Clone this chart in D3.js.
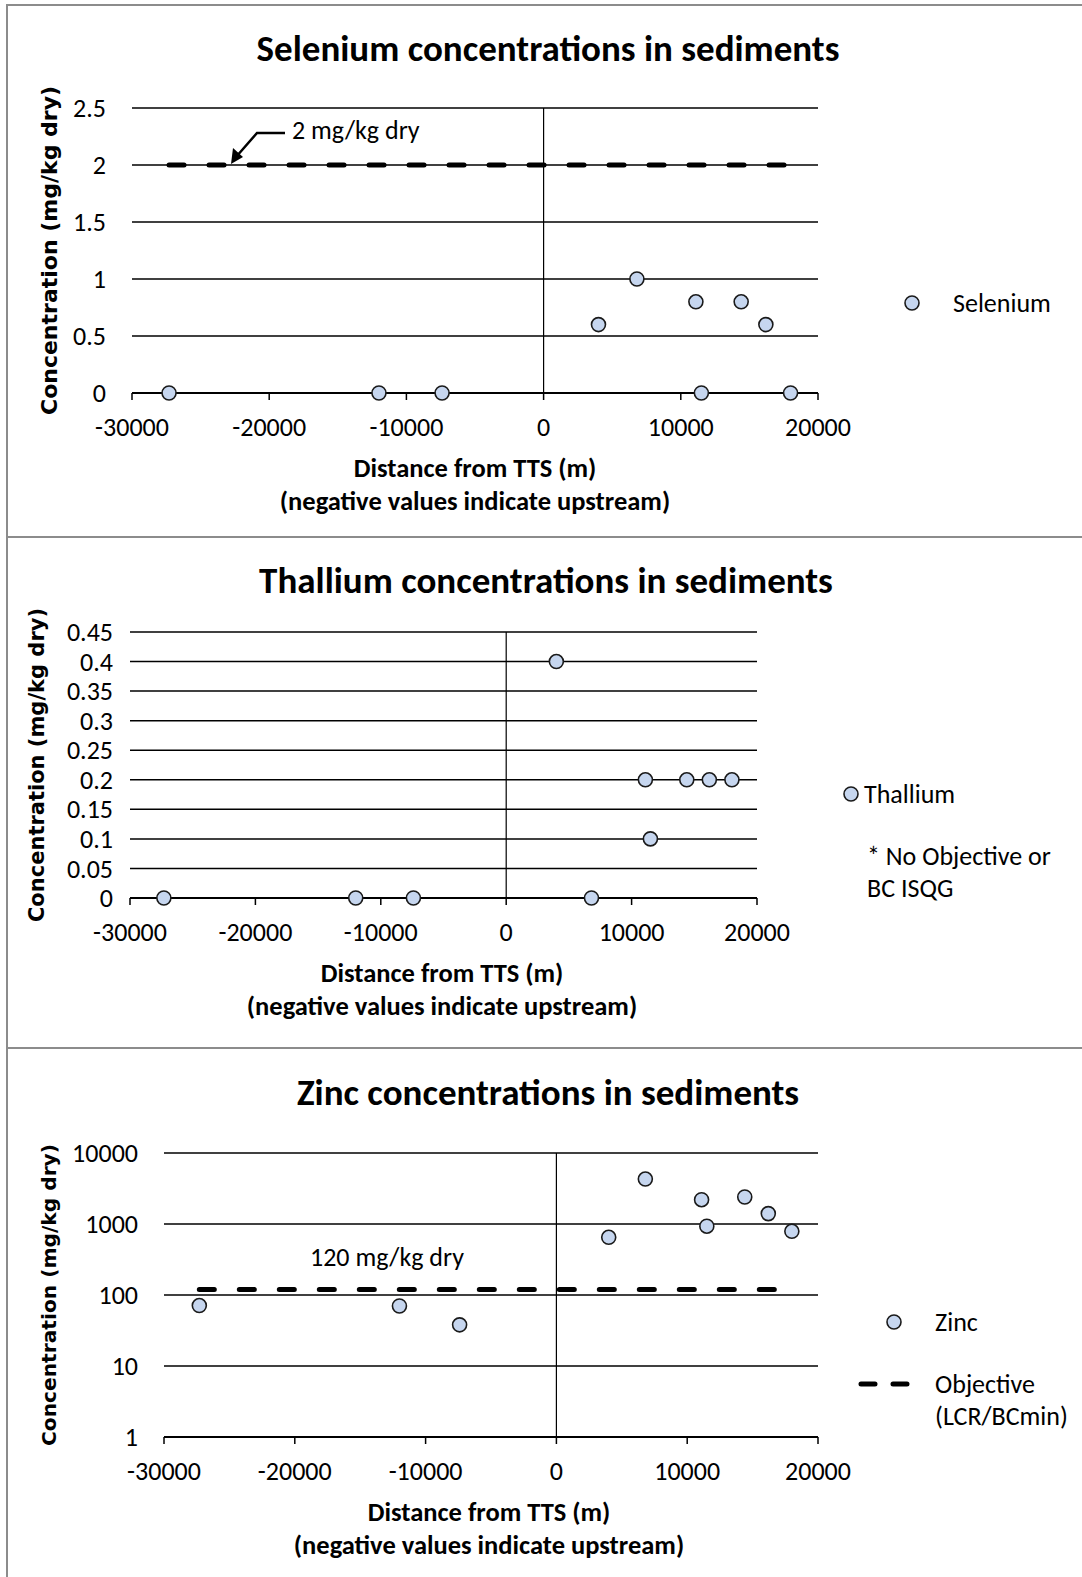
<!DOCTYPE html>
<html>
<head>
<meta charset="utf-8">
<script src="https://cdn.jsdelivr.net/npm/d3@7"></script>
<style>
  body { margin: 0; background: #fff; }
  svg text { font-family: Carlito, Calibri, Lato, sans-serif; fill: #000; }
  .ylab { font-family: "DejaVu Sans", Verdana, sans-serif !important; font-weight: bold; }
</style>
</head>
<body>
<div id="chart"></div>
<script>
const width = 1082;
const height = 1577;

// station distances from TTS (m), shared by all three metals
const distance = [-27300, -12000, -7400, 4000, 6800, 11100, 11500, 14400, 16200, 18000];

const selenium = [0, 0, 0, 0.6, 1, 0.8, 0, 0.8, 0.6, 0];
const thallium = [0, 0, 0, 0.4, 0, 0.2, 0.1, 0.2, 0.2, 0.2];
const zinc = [71, 70, 38, 650, 4300, 2200, 930, 2400, 1400, 790];

const seleniumObjective = 2;
const zincObjective = 120;

const xTicks = [-30000, -20000, -10000, 0, 10000, 20000];
const seTicks = [0, 0.5, 1, 1.5, 2, 2.5];
const tlTicks = [0, 0.05, 0.1, 0.15, 0.2, 0.25, 0.3, 0.35, 0.4, 0.45];
const znTicks = [1, 10, 100, 1000, 10000];

const fs = 26; // body text size

const svg = d3.select("#chart")
  .append("svg")
  .attr("width", width)
  .attr("height", height);

// panel frames
const frames = [[5, 537], [537, 1048], [1048, 1600]];
frames.forEach(f => {
  svg.append("rect")
    .attr("x", 7).attr("y", f[0])
    .attr("width", 1090).attr("height", f[1] - f[0])
    .attr("fill", "none")
    .attr("stroke", "#8c8c8c")
    .attr("stroke-width", 2);
});

function panel(cfg) {
  const g = svg.append("g");
  const x = d3.scaleLinear().domain([-30000, 20000]).range([cfg.left, cfg.right]);
  const y = cfg.y.range([cfg.bottom, cfg.top]);

  g.append("text")
    .attr("x", cfg.titleX).attr("y", cfg.titleY)
    .attr("text-anchor", "middle")
    .attr("font-size", 37).attr("font-weight", "bold")
    .text(cfg.title);

  // gridlines
  g.selectAll(".grid")
    .data(cfg.yTicks)
    .join("line")
    .attr("x1", cfg.left).attr("x2", cfg.right)
    .attr("y1", d => y(d)).attr("y2", d => y(d))
    .attr("stroke", "#000")
    .attr("stroke-width", d => d === cfg.yTicks[0] ? 2 : 1.5);

  // vertical axis at x = 0
  g.append("line")
    .attr("x1", x(0)).attr("x2", x(0))
    .attr("y1", cfg.top).attr("y2", cfg.bottom)
    .attr("stroke", "#000").attr("stroke-width", 1.2);

  // x tick marks
  g.selectAll(".xt")
    .data(xTicks)
    .join("line")
    .attr("x1", d => x(d)).attr("x2", d => x(d))
    .attr("y1", cfg.bottom).attr("y2", cfg.bottom + 7)
    .attr("stroke", "#000").attr("stroke-width", 1.5);

  g.selectAll(".xl")
    .data(xTicks)
    .join("text")
    .attr("x", d => x(d)).attr("y", cfg.bottom + 34)
    .attr("dy", "0.35em")
    .attr("text-anchor", "middle")
    .attr("font-size", fs)
    .text(d => d);

  g.selectAll(".yl")
    .data(cfg.yTicks)
    .join("text")
    .attr("x", cfg.left - cfg.labelGap).attr("y", d => y(d))
    .attr("dy", "0.35em")
    .attr("text-anchor", "end")
    .attr("font-size", fs)
    .text(d => d);

  g.append("text")
    .attr("class", "ylab")
    .attr("transform", `translate(${cfg.yLabX},${(cfg.top + cfg.bottom) / 2}) rotate(-90)`)
    .attr("text-anchor", "middle")
    .attr("dy", "0.35em")
    .attr("font-size", cfg.yLabSize)
    .text("Concentration (mg/kg dry)");

  g.append("text")
    .attr("x", cfg.xLabX).attr("y", cfg.bottom + 75)
    .attr("dy", "0.35em")
    .attr("text-anchor", "middle")
    .attr("font-size", fs + 0.5).attr("font-weight", "bold")
    .text("Distance from TTS (m)");
  g.append("text")
    .attr("x", cfg.xLabX).attr("y", cfg.bottom + 108)
    .attr("dy", "0.35em")
    .attr("text-anchor", "middle")
    .attr("font-size", fs + 0.5).attr("font-weight", "bold")
    .text("(negative values indicate upstream)");

  if (cfg.objective !== undefined) {
    g.append("line")
      .attr("x1", x(d3.min(distance))).attr("x2", x(d3.max(distance)))
      .attr("y1", y(cfg.objective)).attr("y2", y(cfg.objective))
      .attr("stroke", "#000").attr("stroke-width", 5)
      .attr("stroke-linecap", "round")
      .attr("stroke-dasharray", "15 25");
  }

  g.selectAll(".pt")
    .data(distance.map((d, i) => [d, cfg.values[i]]))
    .join("circle")
    .attr("cx", d => x(d[0])).attr("cy", d => y(d[1]))
    .attr("r", 7)
    .attr("fill", "#c6d6ef")
    .attr("stroke", "#1a1a1a").attr("stroke-width", 1.6);

  return { g, x, y };
}

function legendDot(g, cx, cy) {
  g.append("circle").attr("cx", cx).attr("cy", cy).attr("r", 7)
    .attr("fill", "#c6d6ef").attr("stroke", "#1a1a1a").attr("stroke-width", 1.6);
}

function note(g, x, y, txt) {
  return g.append("text").attr("x", x).attr("y", y).attr("dy", "0.35em")
    .attr("font-size", fs).text(txt);
}

// Selenium
const p1 = panel({
  title: "Selenium concentrations in sediments", titleX: 548, titleY: 61,
  left: 132, right: 818, top: 108, bottom: 393,
  y: d3.scaleLinear().domain([0, 2.5]), yTicks: seTicks, values: selenium,
  labelGap: 26, yLabX: 49, yLabSize: 22, xLabX: 475,
  objective: seleniumObjective
});
p1.g.append("path")
  .attr("d", "M285,133 L257,133 L236,157")
  .attr("fill", "none").attr("stroke", "#000").attr("stroke-width", 2.5);
p1.g.append("path")
  .attr("d", "M231,164 L233,148 L243,157 Z")
  .attr("fill", "#000");
note(p1.g, 292, 130, "2 mg/kg dry");
legendDot(p1.g, 912, 303);
note(p1.g, 953, 303, "Selenium");

// Thallium
const p2 = panel({
  title: "Thallium concentrations in sediments", titleX: 546, titleY: 593,
  left: 130, right: 757, top: 632, bottom: 898,
  y: d3.scaleLinear().domain([0, 0.45]), yTicks: tlTicks, values: thallium,
  labelGap: 17, yLabX: 37, yLabSize: 21, xLabX: 442
});
legendDot(p2.g, 851, 794);
note(p2.g, 864, 794, "Thallium");
note(p2.g, 867, 856, "* No Objective or");
note(p2.g, 867, 888, "BC ISQG");

// Zinc
const p3 = panel({
  title: "Zinc concentrations in sediments", titleX: 548, titleY: 1105,
  left: 164, right: 818, top: 1153, bottom: 1437,
  y: d3.scaleLog().domain([1, 10000]), yTicks: znTicks, values: zinc,
  labelGap: 26, yLabX: 49, yLabSize: 20.2, xLabX: 489,
  objective: zincObjective
});
note(p3.g, 387, 1257, "120 mg/kg dry").attr("text-anchor", "middle");
legendDot(p3.g, 894, 1322);
note(p3.g, 935, 1322, "Zinc");
p3.g.append("line")
  .attr("x1", 861).attr("x2", 907).attr("y1", 1384).attr("y2", 1384)
  .attr("stroke", "#000").attr("stroke-width", 5)
  .attr("stroke-linecap", "round").attr("stroke-dasharray", "14 18");
note(p3.g, 935, 1384, "Objective");
note(p3.g, 935, 1416, "(LCR/BCmin)");
</script>
</body>
</html>
